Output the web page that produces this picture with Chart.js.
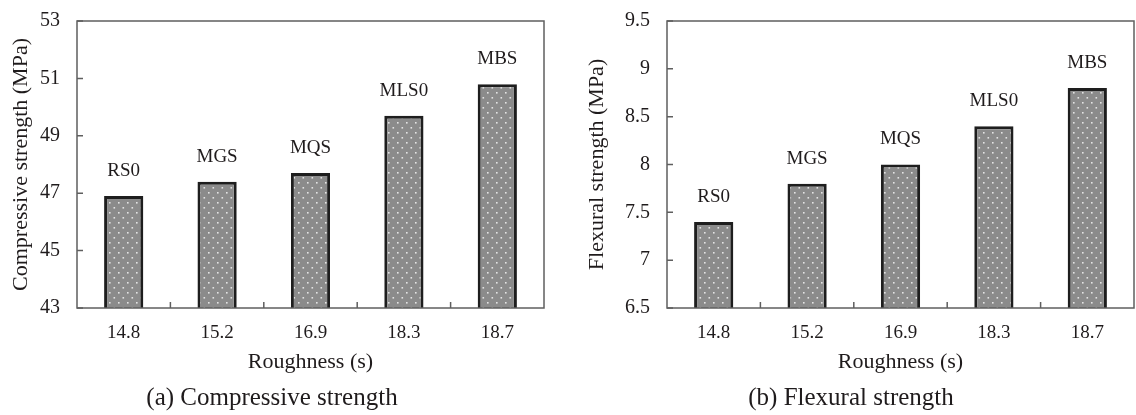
<!DOCTYPE html>
<html>
<head>
<meta charset="utf-8">
<script src="https://cdn.jsdelivr.net/npm/chart.js@4.4.1/dist/chart.umd.min.js"></script>
<style>
  body { margin: 0; background: #fff; }
  .wrap { position: absolute; top: 0; width: 568px; height: 415px; }
</style>
</head>
<body>
<div class="wrap" style="left:0"><canvas id="chartA" width="568" height="415"></canvas></div>
<div class="wrap" style="left:568px"><canvas id="chartB" width="568" height="415"></canvas></div>
<script>
// data
const roughness = ['14.8', '15.2', '16.9', '18.3', '18.7'];
const mixNames = ['RS0', 'MGS', 'MQS', 'MLS0', 'MBS'];
const compressive = [46.9, 47.4, 47.7, 49.7, 50.8];
const flexural = [7.4, 7.8, 8.0, 8.4, 8.8];

const ink = '#1f1b1c';
const serif = "'Liberation Serif', 'Times New Roman', serif";

// gray fill with white dots
function dotPattern() {
    const c = document.createElement('canvas');
    c.width = 9; c.height = 10;
    const g = c.getContext('2d');
    g.fillStyle = '#8b8b8b';
    g.fillRect(0, 0, 9, 10);
    g.fillStyle = '#e4e4e4';
    g.fillRect(1, 2, 1.6, 1.6);
    g.fillRect(5.5, 7, 1.6, 1.6);
    return g.createPattern(c, 'repeat');
}

// frame, inward ticks and bar labels
const decor = {
    id: 'decor',
    afterDatasetsDraw(chart) {
        const ctx = chart.ctx;
        const a = chart.chartArea;
        const x = chart.scales.x, y = chart.scales.y;
        ctx.save();
        ctx.strokeStyle = '#5f5f5f';
        ctx.lineWidth = 1.5;
        ctx.strokeRect(a.left, a.top, a.right - a.left, a.bottom - a.top);
        ctx.beginPath();
        y.ticks.forEach((t, i) => {
            const py = y.getPixelForTick(i);
            ctx.moveTo(a.left, py);
            ctx.lineTo(a.left + 6, py);
        });
        for (let i = 1; i < roughness.length; i++) {
            const px = x.getPixelForValue(i - 0.5);
            ctx.moveTo(px, a.bottom);
            ctx.lineTo(px, a.bottom - 6);
        }
        ctx.stroke();

        ctx.fillStyle = ink;
        ctx.font = '19px ' + serif;
        ctx.textAlign = 'center';
        ctx.textBaseline = 'middle';
        chart.getDatasetMeta(0).data.forEach((bar, i) => {
            ctx.fillText(mixNames[i], bar.x, bar.y - 25);
        });
        ctx.restore();
    }
};

function makeChart(id, values, yTitle, caption, yMin, yMax, step, axisW, titlePad, padTop, padRight) {
    const ctx = document.getElementById(id).getContext('2d');
    return new Chart(ctx, {
        type: 'bar',
        data: {
            labels: roughness,
            datasets: [{
                data: values,
                backgroundColor: dotPattern(),
                borderColor: '#1e1e1e',
                borderWidth: 3,
                borderSkipped: false,
                barPercentage: 0.42,
                categoryPercentage: 1
            }]
        },
        options: {
            responsive: false,
            animation: false,
            layout: { padding: { top: padTop, right: padRight, left: 0, bottom: 0 } },
            plugins: {
                legend: { display: false },
                tooltip: { enabled: false },
                title: {
                    display: true,
                    text: caption,
                    position: 'bottom',
                    color: ink,
                    font: { family: serif, size: 25, weight: 'normal', lineHeight: 1.2 },
                    padding: { top: 4, bottom: 2 }
                }
            },
            scales: {
                x: {
                    grid: { display: false },
                    border: { display: false },
                    ticks: { color: ink, font: { family: serif, size: 19 }, padding: 6 },
                    title: {
                        display: true,
                        text: 'Roughness (s)',
                        color: ink,
                        font: { family: serif, size: 22, lineHeight: 1.2 },
                        padding: { top: 0, bottom: 4 }
                    },
                    afterFit(scale) { scale.height = 71; }
                },
                y: {
                    min: yMin,
                    max: yMax,
                    grid: { display: false },
                    border: { display: false },
                    ticks: {
                        stepSize: step,
                        color: ink,
                        font: { family: serif, size: 20 },
                        padding: 9,
                        callback: v => String(v)
                    },
                    title: {
                        display: true,
                        text: yTitle,
                        color: ink,
                        font: { family: serif, size: 22, lineHeight: 1.2 },
                        padding: { top: titlePad, bottom: 0 }
                    },
                    afterFit(scale) { scale.width = axisW; }
                }
            }
        },
        plugins: [decor]
    });
}

makeChart('chartA', compressive, 'Compressive strength (MPa)', '(a) Compressive strength', 43, 53, 2, 77, 8, 17, 24);
makeChart('chartB', flexural, 'Flexural strength (MPa)', '(b) Flexural strength', 6.5, 9.5, 0.5, 99, 16, 19, 2);
</script>
</body>
</html>
